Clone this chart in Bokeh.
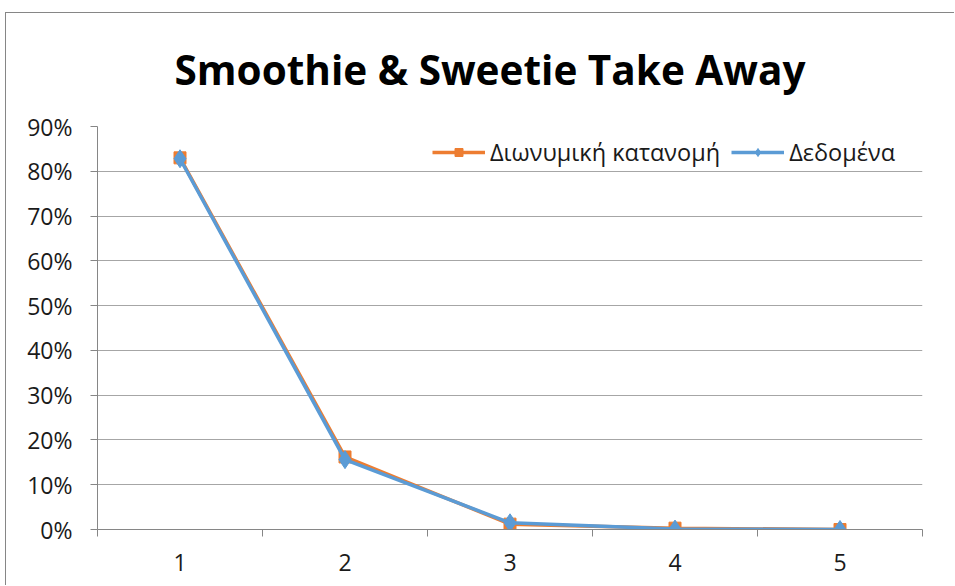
from bokeh.plotting import figure
from bokeh.models import (Range1d, FixedTicker, NumeralTickFormatter, Title,
                          Legend, LegendItem)
from bokeh.embed import file_html
from bokeh.resources import INLINE

# ---- data ----
categories = [1, 2, 3, 4, 5]
binomial = [0.830, 0.162, 0.012, 0.003, 0.0]     # Διωνυμική κατανομή
observed = [0.828, 0.156, 0.015, 0.001, 0.0]     # Δεδομένα
y_ticks = [0.0, 0.1, 0.2, 0.3, 0.4, 0.5, 0.6, 0.7, 0.8, 0.9]
title_text = "Smoothie & Sweetie Take Away"
series_names = ["Διωνυμική κατανομή", "Δεδομένα"]

ORANGE = "#ED7D31"
BLUE = "#5B9BD5"
FONT = "Open Sans"

p = figure(width=949, height=573, output_backend="svg", toolbar_location=None,
           x_range=Range1d(0.5, 5.5), y_range=Range1d(0, 0.9),
           min_border_left=91, min_border_top=112, min_border_right=33,
           min_border_bottom=57)
p.title = None
p.margin = (12, 0, 0, 5)
p.outline_line_color = None
p.background_fill_color = "white"
p.border_fill_color = "white"
p.styles = {"border-top": "1px solid #868686", "border-left": "1px solid #868686"}

# axes
p.xaxis.ticker = FixedTicker(ticks=categories,
                             minor_ticks=[c - 0.5 for c in categories] + [categories[-1] + 0.5])
p.xaxis.major_tick_out = 0
p.xaxis.major_tick_in = 0
p.xaxis.minor_tick_out = 7
p.xaxis.minor_tick_in = 0
p.xaxis.minor_tick_line_color = "#868686"
p.xaxis.axis_line_color = "#868686"
p.xaxis.major_label_standoff = 17
p.xaxis.major_label_text_font = FONT
p.xaxis.major_label_text_font_size = "23px"
p.xaxis.major_label_text_color = "#1a1a1a"

p.yaxis.ticker = FixedTicker(ticks=y_ticks, minor_ticks=[])
p.yaxis.formatter = NumeralTickFormatter(format="0%")
p.yaxis.major_tick_out = 7
p.yaxis.major_tick_in = 0
p.yaxis.major_tick_line_color = "#868686"
p.yaxis.axis_line_color = "#868686"
p.yaxis.major_label_standoff = 18
p.yaxis.major_label_text_font = FONT
p.yaxis.major_label_text_font_size = "23px"
p.yaxis.major_label_text_color = "#1a1a1a"

p.xgrid.grid_line_color = None
p.ygrid.grid_line_color = "#a6a6a6"
p.ygrid.grid_line_width = 1

# series
l1 = p.line(categories, binomial, line_color=ORANGE, line_width=3.5)
s1 = p.scatter(categories, binomial, marker="square", size=12,
               fill_color=ORANGE, line_color=ORANGE)
l2 = p.line(categories, observed, line_color=BLUE, line_width=3.5)
s2 = p.scatter(categories, observed, marker="diamond", size=18,
               fill_color=BLUE, line_color=BLUE)

legend = Legend(items=[LegendItem(label=series_names[0], renderers=[l1, s1]),
                       LegendItem(label=series_names[1], renderers=[l2, s2])],
                orientation="horizontal", location=(335, 361),
                glyph_width=53, glyph_height=20, label_standoff=5, spacing=11,
                padding=0, margin=0,
                label_text_font=FONT, label_text_font_size="23.5px",
                label_text_color="#1a1a1a",
                background_fill_alpha=0, border_line_alpha=0)
p.add_layout(legend, "center")

title = Title(text=title_text, align="left", offset=77, standoff=56,
              vertical_align="top",
              text_font=FONT, text_font_size="40.5px", text_font_style="bold",
              text_color="black")
p.add_layout(title, "above")

open("out.html", "w").write(file_html(p, INLINE))
